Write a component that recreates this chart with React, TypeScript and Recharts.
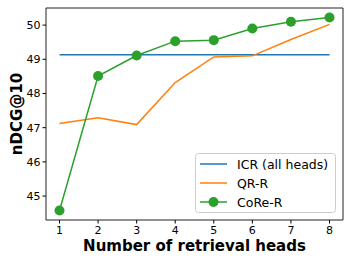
import * as React from "react"
import { LineChart, Line, XAxis, YAxis, Legend, ReferenceArea } from "recharts"

const heads = [1, 2, 3, 4, 5, 6, 7, 8]
const icrAllHeads = [49.13, 49.13, 49.13, 49.13, 49.13, 49.13, 49.13, 49.13]
const qrR = [47.12, 47.29, 47.09, 48.32, 49.07, 49.1, 49.58, 50.02]
const coreR = [44.58, 48.51, 49.11, 49.53, 49.56, 49.9, 50.1, 50.22]

const xTicks = [1, 2, 3, 4, 5, 6, 7, 8]
const yTicks = [45, 46, 47, 48, 49, 50]

const seriesInfo = [
  { key: "icr", name: "ICR (all heads)", color: "#1f77b4", marker: false },
  { key: "qr", name: "QR-R", color: "#ff7f0e", marker: false },
  { key: "core", name: "CoRe-R", color: "#2ca02c", marker: true },
]

const data = heads.map((h, i) => ({
  heads: h,
  icr: icrAllHeads[i],
  qr: qrR[i],
  core: coreR[i],
}))

const FONT = "DejaVu Sans"
const X_DOMAIN: [number, number] = [0.65, 8.35]
const Y_DOMAIN: [number, number] = [44.3, 50.5]

const LegendBox = () => (
  <svg width={141} height={60} style={{ display: "block" }}>
    <rect x={0.5} y={0.5} width={140} height={59} rx={3} fill="rgba(255,255,255,0.8)" stroke="#cccccc" />
    {seriesInfo.map((s, i) => {
      const cy = 11 + i * 19
      return (
        <g key={s.key}>
          <line x1={5} x2={32} y1={cy} y2={cy} stroke={s.color} strokeWidth={1.5} />
          {s.marker && <circle cx={18.5} cy={cy} r={5} fill={s.color} />}
          <text x={42} y={cy + 4.5} fontFamily={FONT} fontSize={12.5} fill="#000">
            {s.name}
          </text>
        </g>
      )
    })}
  </svg>
)

const YLabel = () => (
  <text
    transform="translate(21.5,114) rotate(-90)"
    textAnchor="middle"
    fontFamily={FONT}
    fontWeight="bold"
    fontSize={15}
    fill="#000"
  >
    nDCG@10
  </text>
)

export default function App() {
  return (
    <div style={{ position: "absolute", left: 0, top: 0, width: 351, height: 263, background: "#fff" }}>
      <LineChart width={351} height={263} data={data} margin={{ top: 8, right: 8, bottom: 0, left: 0 }}>
        <XAxis
          dataKey="heads"
          type="number"
          domain={X_DOMAIN}
          ticks={xTicks}
          height={43}
          axisLine={false}
          tickLine={{ stroke: "#000" }}
          tickSize={3.5}
          tickMargin={3}
          tick={{ fill: "#000", fontSize: 11, fontFamily: FONT }}
          label={{
            value: "Number of retrieval heads",
            position: "insideBottom",
            offset: 12,
            fill: "#000",
            fontSize: 15,
            fontWeight: "bold",
            fontFamily: FONT,
          }}
        />
        <YAxis
          type="number"
          domain={Y_DOMAIN}
          ticks={yTicks}
          width={46}
          axisLine={false}
          tickLine={{ stroke: "#000" }}
          tickSize={3.5}
          tickMargin={2}
          tick={{ fill: "#000", fontSize: 11, fontFamily: FONT }}
          label={{ content: () => <YLabel /> }}
        />
        <Line
          dataKey="icr"
          name="ICR (all heads)"
          stroke="#1f77b4"
          strokeWidth={1.5}
          dot={false}
          activeDot={false}
          isAnimationActive={false}
        />
        <Line
          dataKey="qr"
          name="QR-R"
          stroke="#ff7f0e"
          strokeWidth={1.5}
          dot={false}
          activeDot={false}
          isAnimationActive={false}
        />
        <Line
          dataKey="core"
          name="CoRe-R"
          stroke="#2ca02c"
          strokeWidth={1.5}
          dot={{ r: 5, fill: "#2ca02c", stroke: "#2ca02c", strokeWidth: 0 }}
          activeDot={false}
          isAnimationActive={false}
        />
        <ReferenceArea
          x1={X_DOMAIN[0]}
          x2={X_DOMAIN[1]}
          y1={Y_DOMAIN[0]}
          y2={Y_DOMAIN[1]}
          fill="none"
          stroke="#222"
          strokeWidth={1}
          ifOverflow="visible"
        />
        <Legend
          layout="horizontal"
          verticalAlign="middle"
          align="center"
          content={() => <LegendBox />}
          wrapperStyle={{ position: "absolute", left: 195, top: 153, width: 141, height: 60 }}
        />
      </LineChart>
    </div>
  )
}
